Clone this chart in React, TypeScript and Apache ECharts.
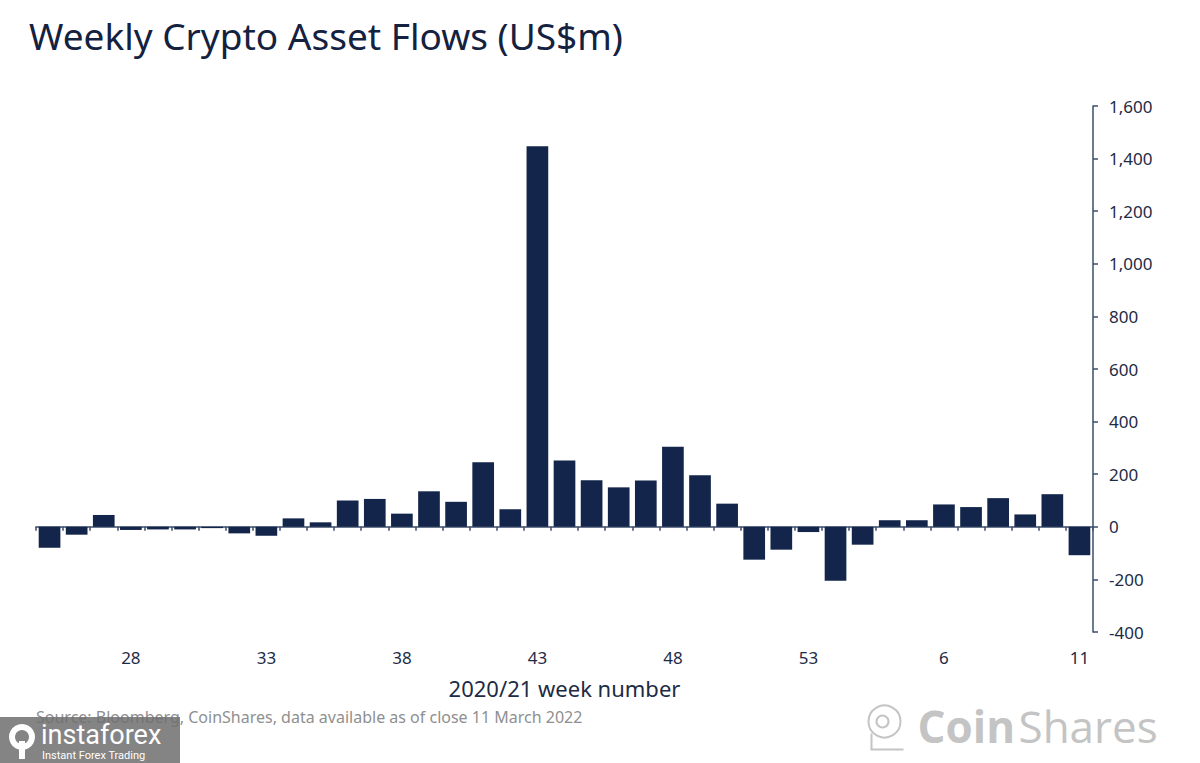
import React, { useEffect, useRef } from "react";
import * as echarts from "echarts";

const weeks: string[] = [
  "25", "26", "27", "28", "29", "30", "31", "32", "33", "34",
  "35", "36", "37", "38", "39", "40", "41", "42", "43", "44",
  "45", "46", "47", "48", "49", "50", "51", "52", "53",
  "2", "3", "4", "5", "6", "7", "8", "9", "10", "11",
];

const flows: number[] = [
  -80, -30, 45, -12, -10, -10, -5, -25, -34, 32,
  17, 100, 106, 50, 135, 95, 245, 67, 1447, 252,
  177, 150, 176, 304, 196, 88, -125, -87, -20,
  -205, -68, 25, 25, 85, 75, 109, 47, 124, -108,
];

const yMin = -400;
const yMax = 1600;
const yStep = 200;

const title = "Weekly Crypto Asset Flows (US$m)";
const xName = "2020/21 week number";
const source = "Source: Bloomberg, CoinShares, data available as of close 11 March 2022";

const NAVY = "#13254a";
const TEXT = "#1d2b45";
const FONT = "'Noto Sans', sans-serif";

export default function App() {
  const ref = useRef<HTMLDivElement>(null);
  useEffect(() => {
    if (!ref.current) return;
    const chart = echarts.init(ref.current, null, { renderer: "svg" });
    chart.setOption({
      animation: false,
      backgroundColor: "#ffffff",
      textStyle: { fontFamily: FONT },
      title: {
        text: title,
        left: 24,
        top: 12,
        textStyle: { fontFamily: FONT, fontSize: 37, fontWeight: "normal", color: "#14213f" },
      },
      grid: { left: 36, right: 107, top: 106, bottom: 131, containLabel: false },
      xAxis: [
        {
          type: "category",
          data: weeks,
          position: "bottom",
          axisLine: { onZero: true, lineStyle: { color: "#3c4c68", width: 1.5 } },
          axisTick: { show: true, interval: 0, alignWithLabel: false, length: 4, lineStyle: { color: "#3c4c68", width: 1.5 } },
          axisLabel: { show: false },
          splitLine: { show: false },
        },
        {
          type: "category",
          data: weeks,
          position: "bottom",
          offset: 0,
          axisLine: { show: false, onZero: false },
          axisTick: { show: false },
          axisLabel: {
            show: true,
            interval: (idx: number) => (idx - 3) % 5 === 0,
            color: TEXT,
            fontSize: 17,
            margin: 17,
            fontFamily: FONT,
          },
          name: xName,
          nameLocation: "middle",
          nameGap: 45,
          nameTextStyle: { color: TEXT, fontSize: 22, fontFamily: FONT, verticalAlign: "top" },
        },
      ],
      yAxis: {
        type: "value",
        position: "right",
        min: yMin,
        max: yMax,
        interval: yStep,
        axisLine: { show: true, lineStyle: { color: "#3c4c68", width: 1.5 } },
        axisTick: { show: true, length: 5, lineStyle: { color: "#3c4c68", width: 1.5 } },
        splitLine: { show: false },
        axisLabel: {
          color: TEXT,
          fontSize: 17,
          margin: 16,
          fontFamily: FONT,
          formatter: (v: number) => v.toLocaleString("en-US"),
        },
      },
      series: [
        {
          type: "bar",
          data: flows,
          xAxisIndex: 0,
          barWidth: "80%",
          itemStyle: { color: NAVY },
        },
      ],
      graphic: [
        {
          type: "text",
          left: 36,
          top: 709,
          style: { text: source, fill: "#8f8f8f", fontSize: 16, fontFamily: FONT },
        },
        {
          type: "group",
          left: 0,
          top: 717,
          children: [
            { type: "rect", shape: { x: 0, y: 0, width: 180, height: 46 }, style: { fill: "rgba(110,110,110,0.85)" } },
            { type: "ring", shape: { cx: 22, cy: 20, r: 13, r0: 7 }, style: { fill: "#ffffff" } },
            { type: "rect", shape: { x: 19, y: 24, width: 6, height: 18 }, style: { fill: "#ffffff" } },
            { type: "text", x: 41, y: 4, style: { text: "instaforex", fill: "#ffffff", fontSize: 27, fontFamily: "Roboto, sans-serif" } },
            { type: "text", x: 42, y: 33, style: { text: "Instant Forex Trading", fill: "#ffffff", fontSize: 11, fontFamily: "Roboto, sans-serif" } },
          ],
        },
        {
          type: "group",
          left: 866,
          top: 703,
          children: [
            { type: "circle", shape: { cx: 19, cy: 20, r: 16 }, style: { fill: "none", stroke: "#c4c4c4", lineWidth: 2 } },
            { type: "circle", shape: { cx: 17, cy: 20, r: 6 }, style: { fill: "none", stroke: "#c4c4c4", lineWidth: 2 } },
            { type: "polyline", shape: { points: [[6, 32], [6, 48], [38, 48]] }, style: { fill: "none", stroke: "#c4c4c4", lineWidth: 2 } },
            { type: "text", x: 52, y: 2, style: { text: "Coin", fill: "#c4c4c4", fontSize: 44, fontWeight: "bold", fontFamily: "'Open Sans', sans-serif" } },
            { type: "text", x: 153, y: 2, style: { text: "Shares", fill: "#c4c4c4", fontSize: 44, fontFamily: "'Open Sans', sans-serif" } },
          ],
        },
      ],
    });
    return () => chart.dispose();
  }, []);
  return <div ref={ref} style={{ width: 1200, height: 763, position: "absolute", left: 0, top: 0 }} />;
}
